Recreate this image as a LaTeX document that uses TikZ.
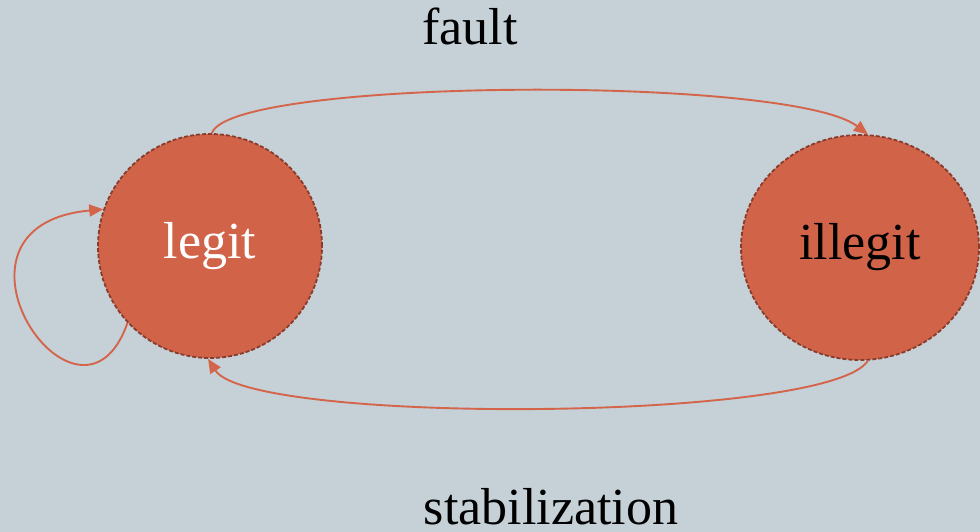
\documentclass[tikz,border=0pt]{standalone}
\usepackage{fontspec}
\setmainfont{Liberation Serif}
\usetikzlibrary{arrows.meta,shapes.geometric}
\definecolor{bgcol}{HTML}{C5D1D7}
\definecolor{statefill}{HTML}{D06348}
\definecolor{stateedge}{HTML}{8A3C2C}
\definecolor{arrowcol}{HTML}{D4644A}
\tikzset{
  statenode/.style={fill=statefill, draw=stateedge, line width=1.8pt,
    dash pattern=on 4pt off 2pt, font=\fontsize{52}{58}\selectfont, inner sep=0pt},
  transition/.style={draw=arrowcol, line width=1.9pt,
    -{Triangle[length=14pt,width=12pt]}},
  lbl/.style={font=\fontsize{52}{58}\selectfont, text=black, inner sep=0pt}
}
\begin{document}
\begin{tikzpicture}[x=1pt,y=-1pt]
  \fill[bgcol] (0,0) rectangle (980,532);
  \useasboundingbox (0,0) rectangle (980,532);
  % states
  \node[statenode, circle, minimum size=224pt, text=white] (legit) at (210,246) {legit};
  \node[statenode, ellipse, minimum width=238pt, minimum height=225pt, text=black] (illegit) at (860,247.5) {illegit};
  % labels
  \node[lbl, anchor=base] (faultlbl) at (470,45) {fault};
  \node[lbl, anchor=base] (stablbl) at (551,524) {stabilization};
  % transitions
  \draw[transition] (legit.89) .. controls (230,78) and (790,75) .. (illegit.86);
  \draw[transition] (illegit.-86) .. controls (830,422) and (250,425) .. (legit.-91);
  \draw[transition] (legit.223) .. controls (80,458) and (-78,226) .. (legit.161);
\end{tikzpicture}
\end{document}
